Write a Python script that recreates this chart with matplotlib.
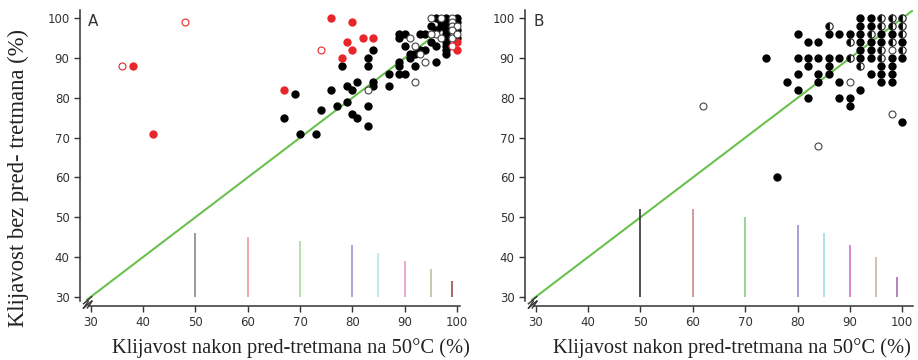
import numpy as np
import matplotlib.pyplot as plt

# panel A
a_black_x = [67, 69, 70, 73, 74, 76, 77, 78, 79, 79, 80, 80, 81, 81, 83, 83, 83, 83, 84, 84, 84,
             87, 87, 89, 89, 89, 89, 89, 90, 90, 90, 91, 91, 92, 92, 93, 93, 94, 94, 95, 95,
             96, 96, 96, 97, 97, 98, 98, 98, 98, 98, 98, 98, 98, 98, 98, 100, 100, 100, 100, 96]
a_black_y = [75, 81, 71, 71, 77, 82, 78, 88, 83, 79, 82, 76, 84, 75, 90, 88, 78, 73, 92, 84, 83,
             86, 83, 96, 95, 89, 88, 86, 96, 93, 86, 90, 91, 91, 88, 96, 92, 96, 92, 98, 94,
             100, 93, 89, 99, 98, 100, 99, 98, 97, 96, 95, 94, 93, 92, 91, 100, 99, 97, 95, 97]
a_open_x = [83, 91, 92, 93, 94, 92, 95, 96, 95, 99, 99, 99, 100, 99, 99, 100, 97, 97]
a_open_y = [82, 95, 93, 91, 89, 84, 100, 96, 96, 100, 99, 98, 98, 97, 95, 96, 95, 100]
a_red_x = [38, 42, 67, 76, 78, 79, 80, 80, 82, 84, 100, 100]
a_red_y = [88, 71, 82, 100, 90, 94, 99, 92, 95, 95, 94, 92]
a_redopen_x = [36, 48, 74, 99]
a_redopen_y = [88, 99, 92, 93]

# panel B
b_black_x = [74, 76, 78, 80, 80, 80, 80, 82, 82, 82, 82, 84, 84, 84, 84, 86, 86, 86, 86,
             88, 88, 88, 88, 90, 90, 90, 92, 92, 92, 92, 92, 92, 92, 94, 94, 94, 94, 94, 94,
             96, 96, 96, 96, 96, 98, 98, 98, 98, 98, 100, 100, 100]
b_black_y = [90, 60, 84, 96, 90, 86, 82, 94, 90, 88, 80, 94, 90, 86, 84, 96, 90, 88, 86,
             96, 90, 84, 80, 96, 80, 78, 100, 98, 96, 94, 92, 90, 82, 100, 98, 94, 92, 90, 86,
             96, 94, 88, 86, 84, 96, 90, 88, 86, 84, 94, 90, 74]
b_open_x = [62, 84, 90, 98, 98]
b_open_y = [78, 68, 84, 92, 76]
b_half_x = [86, 90, 90, 92, 94, 96, 96, 96, 96, 98, 98, 98, 100, 100, 100, 100]
b_half_y = [98, 94, 90, 88, 96, 100, 98, 92, 90, 100, 98, 94, 100, 98, 96, 92]

# vertical reference bars
bar_x = [50, 60, 70, 80, 85, 90, 95, 99]
a_bar_top = [46, 45, 44, 43, 41, 39, 37, 34]
b_bar_top = [52, 52, 50, 48, 46, 43, 40, 35]
a_bar_col = ['#8a8a8a', '#ec9a9a', '#a8dca0', '#9c9ad0', '#b4e6ee', '#e69ac8', '#c4c0a0', '#9a4a4a']
b_bar_col = ['#333333', '#cc8a8a', '#88cc80', '#9c8ccc', '#a0dcec', '#d870c0', '#c8b8a0', '#a870b0']

sans = 'DejaVu Sans'
serif = 'Liberation Serif'
red = '#e8262a'
green = '#6cc04e'

fig = plt.figure(figsize=(9.18, 3.6), dpi=100)
axA = fig.add_axes([80 / 918, 1 - 306 / 360, 380 / 918, 296 / 360])
axB = fig.add_axes([525 / 918, 1 - 306 / 360, 388 / 918, 296 / 360])


def style_axis(ax, xmax, letter):
    ax.set_xlim(27.95, xmax)
    ax.set_ylim(27.7, 102.1)
    for s in ['top', 'right']:
        ax.spines[s].set_visible(False)
    ax.spines['left'].set_bounds(29.0, 102.1)
    ax.spines['bottom'].set_bounds(29.6, xmax)
    for s in ['left', 'bottom']:
        ax.spines[s].set_color('#333333')
        ax.spines[s].set_linewidth(1.1)
    ax.set_xticks(np.arange(30, 101, 10))
    ax.set_yticks(np.arange(30, 101, 10))
    ax.tick_params(direction='out', length=4, width=1, color='#333333',
                   labelsize=8.5, labelcolor='#333333')
    for lab in ax.get_xticklabels() + ax.get_yticklabels():
        lab.set_family(sans)
    # axis break slashes
    for dy in (-0.55, 0.55):
        ax.plot([28.6, 30.2], [28.6 + dy - 0.9, 28.6 + dy + 0.9], color='#333333', lw=1, clip_on=False)
    for dx in (-0.35, 0.35):
        ax.plot([29.0 + dx, 29.9 + dx], [27.2, 28.9], color='#333333', lw=1, clip_on=False)
    ax.text(0.022, 0.985, letter, transform=ax.transAxes, fontsize=11,
            family=sans, color='#333333', ha='left', va='top')
    ax.plot([29.3, 102.5], [29.3, 102.5], color=green, lw=1.5, zorder=1)


style_axis(axA, 100.6, 'A')
style_axis(axB, 102.05, 'B')

for x, top, c in zip(bar_x, a_bar_top, a_bar_col):
    axA.vlines(x, 30, top, color=c, lw=1.2)
for x, top, c in zip(bar_x, b_bar_top, b_bar_col):
    axB.vlines(x, 30, top, color=c, lw=1.2)

ms = 6
axA.plot(a_black_x, a_black_y, 'o', color='black', ms=ms, mew=0, clip_on=False, zorder=3)
axA.plot(a_open_x, a_open_y, 'o', mfc='white', mec='#444444', ms=5, mew=0.8, clip_on=False, zorder=4)
axA.plot(a_red_x, a_red_y, 'o', color=red, ms=ms, mew=0, clip_on=False, zorder=3)
axA.plot(a_redopen_x, a_redopen_y, 'o', mfc='white', mec=red, ms=5, mew=0.8, clip_on=False, zorder=4)

axB.plot(b_black_x, b_black_y, 'o', color='black', ms=ms, mew=0, clip_on=False, zorder=3)
axB.plot(b_open_x, b_open_y, 'o', mfc='white', mec='#444444', ms=5, mew=0.8, clip_on=False, zorder=3)
axB.plot(b_half_x, b_half_y, 'o', mfc='black', mfcalt='white', fillstyle='left',
         mec='#222222', ms=5.3, mew=0.8, clip_on=False, zorder=3)

fig.text(18 / 918, 1 - 178 / 360, 'Klijavost bez pred- tretmana (%)', rotation=90,
         family=serif, fontsize=16.3, ha='center', va='center', color='#222222')
fig.text(291 / 918, 1 - 348 / 360, 'Klijavost nakon pred-tretmana na 50°C (%)',
         family=serif, fontsize=14.8, ha='center', va='center', color='#222222')
fig.text(732 / 918, 1 - 348 / 360, 'Klijavost nakon pred-tretmana na 50°C (%)',
         family=serif, fontsize=14.8, ha='center', va='center', color='#222222')

fig.savefig('out.png', dpi=100)
